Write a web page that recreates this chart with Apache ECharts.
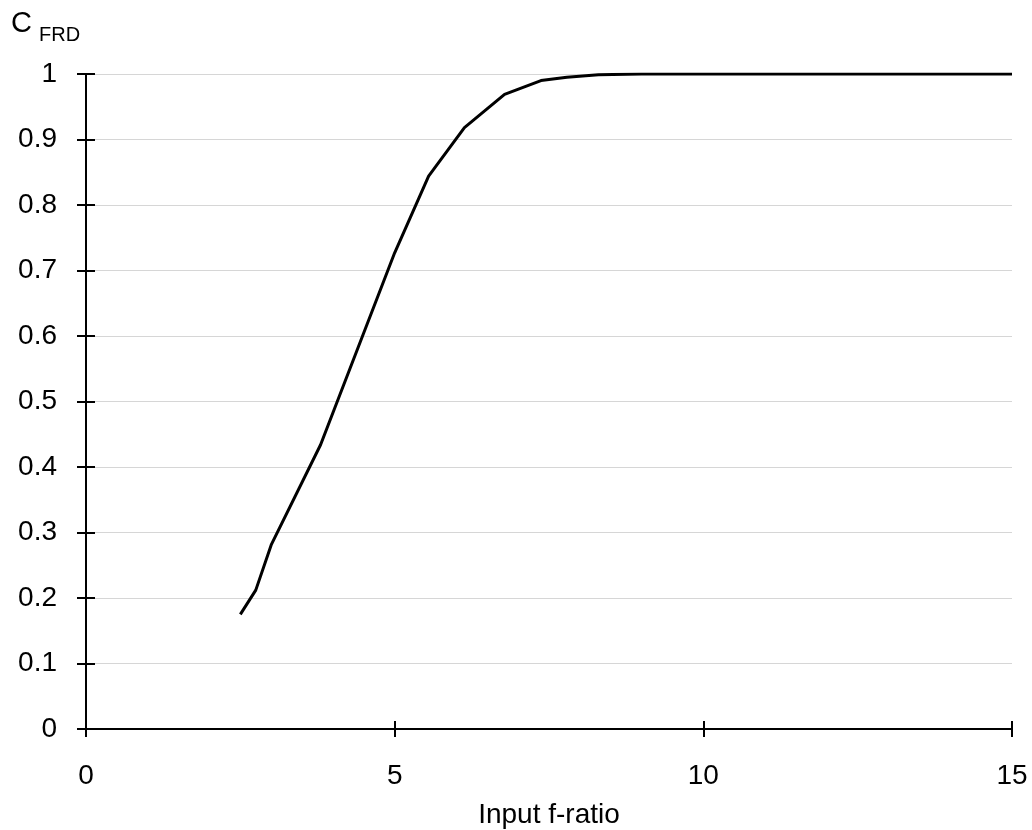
<!DOCTYPE html>
<html>
<head>
<meta charset="utf-8">
<script src="https://cdn.jsdelivr.net/npm/echarts@6/dist/echarts.min.js"></script>
<style>
    html, body { margin: 0; padding: 0; background: #fff; }
    #chart { width: 1032px; height: 830px; }
</style>
</head>
<body>
<div id="chart"></div>
<script>
    // values
    const fRatio = [2.5, 2.75, 3.0, 3.8, 5.0, 5.55, 6.13, 6.78, 7.37, 7.79, 8.3, 9.0, 15.0]
    const cFrd = [0.175, 0.212, 0.281, 0.434, 0.727, 0.844, 0.918, 0.969, 0.990, 0.995, 0.999, 1.0, 1.0]
    const xTicks = [0, 5, 10, 15]
    const yTicks = [0, 0.1, 0.2, 0.3, 0.4, 0.5, 0.6, 0.7, 0.8, 0.9, 1]

    const font = '"Liberation Sans", Arial, sans-serif'
    const fontSize = 28

    let myChart = echarts.init(document.getElementById('chart'), null, { renderer: 'canvas' })

    let points = fRatio.map((x, i) => [x, cFrd[i]])

    let option = {
        animation: false,
        backgroundColor: '#fff',
        textStyle: { fontFamily: font },
        grid: { left: 86, right: 20, top: 74, bottom: 101, containLabel: false, outerBoundsMode: 'none' },
        graphic: [
            { type: 'text', left: 11, top: 9, style: { text: 'C', fontSize: 29, fontFamily: font, fill: '#000' } },
            { type: 'text', left: 39, top: 25, style: { text: 'FRD', fontSize: 20, fontFamily: font, fill: '#000' } }
        ],
        xAxis: [{
            type: 'value',
            min: xTicks[0],
            max: xTicks[xTicks.length - 1],
            interval: 5,
            name: 'Input f-ratio',
            nameLocation: 'middle',
            nameGap: 72,
            nameTextStyle: { color: '#000', fontSize: fontSize, fontFamily: font },
            axisLine: { show: true, lineStyle: { color: '#000', width: 2 } },
            axisTick: { show: true, inside: false, length: 8, lineStyle: { color: '#000', width: 2 } },
            axisLabel: { color: '#000', fontSize: fontSize, fontFamily: font, margin: 33 },
            splitLine: { show: false }
        }, {
            // inward half of the crossing ticks
            type: 'value',
            min: xTicks[0],
            max: xTicks[xTicks.length - 1],
            interval: 5,
            position: 'bottom',
            axisLine: { show: false },
            axisTick: { show: true, inside: true, length: 8, lineStyle: { color: '#000', width: 2 } },
            axisLabel: { show: false },
            splitLine: { show: false }
        }],
        yAxis: [{
            type: 'value',
            min: yTicks[0],
            max: yTicks[yTicks.length - 1],
            interval: 0.1,
            axisLine: { show: true, lineStyle: { color: '#000', width: 2 } },
            axisTick: { show: true, inside: false, length: 9, lineStyle: { color: '#000', width: 2 } },
            axisLabel: { color: '#000', fontSize: fontSize, fontFamily: font, margin: 29 },
            splitLine: { show: true, lineStyle: { color: '#d6d6d6', width: 1 } }
        }, {
            type: 'value',
            min: yTicks[0],
            max: yTicks[yTicks.length - 1],
            interval: 0.1,
            position: 'left',
            axisLine: { show: false },
            axisTick: { show: true, inside: true, length: 9, lineStyle: { color: '#000', width: 2 } },
            axisLabel: { show: false },
            splitLine: { show: false }
        }],
        series: [{
            type: 'line',
            data: points,
            xAxisIndex: 0,
            yAxisIndex: 0,
            showSymbol: false,
            smooth: false,
            lineStyle: { color: '#000', width: 3 },
            z: 5
        }]
    }

    myChart.setOption(option)
</script>
</body>
</html>
